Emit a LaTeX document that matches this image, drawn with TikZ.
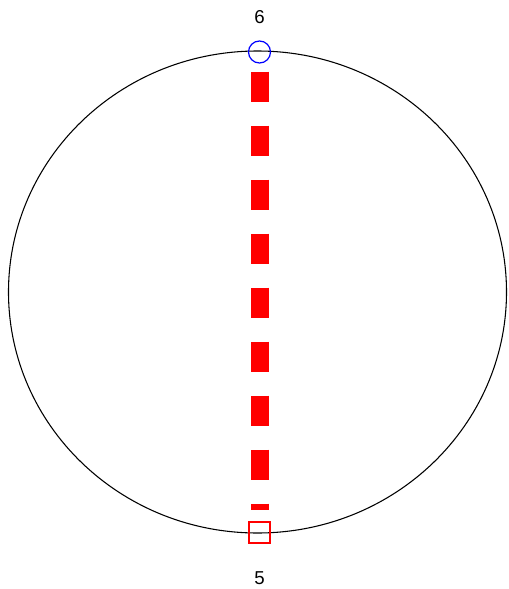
\documentclass[tikz,border=0pt]{standalone}
\usepackage{fontspec}
\setmainfont{Liberation Sans}
\begin{document}
\begin{tikzpicture}[
      x=0.75pt, y=-0.75pt,
      every node/.style={font=\fontsize{14}{16}\selectfont, align=center},
      tope/.style={draw=blue, circle, line width=0.9pt, minimum size=16.5pt, inner sep=0pt},
      base/.style={draw=red, rectangle, line width=0.9pt, minimum size=15.75pt, inner sep=0pt},
      tramo/.style={red, line width=13.5pt, dash pattern=on 22.5pt off 18pt}
    ]
    \useasboundingbox (0,0) rectangle (509,589);
    % Contorno exterior
    \draw[line width=0.8pt] (257.5,292) ellipse [x radius=249, y radius=241];
    % Extremos del segmento con sus numeros
    \node[tope] (n6) at (259.5,52) {};
    \node[base] (n5) at (259.5,532.5) {};
    \node (t6) at (259.5,17) {6};
    \node (t5) at (259.5,578) {5};
    % Segmento discontinuo entre los extremos
    \draw[tramo, shorten <=6pt, shorten >=8.25pt] (n6.south) -- (n5.north);
  \end{tikzpicture}
\end{document}
